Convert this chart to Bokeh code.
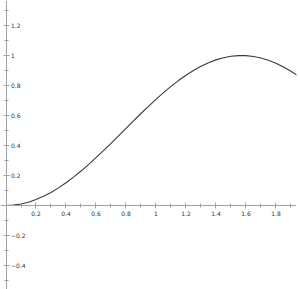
from bokeh.plotting import figure
from bokeh.models import LinearAxis, FixedTicker, Range1d
from bokeh.embed import file_html
from bokeh.resources import INLINE

x_vals = [0.0, 0.05, 0.1, 0.15, 0.2, 0.25, 0.3, 0.35, 0.4, 0.45, 0.5, 0.55, 0.6, 0.65, 0.7,
          0.75, 0.8, 0.85, 0.9, 0.95, 1.0, 1.05, 1.1, 1.15, 1.2, 1.25, 1.3, 1.35, 1.4, 1.45,
          1.5, 1.55, 1.6, 1.65, 1.7, 1.75, 1.8, 1.85, 1.9, 1.95, 2.0]
y_vals = [0.0, 0.0025, 0.01, 0.0223, 0.0395, 0.0612, 0.0873, 0.1176, 0.1516, 0.1892, 0.2298,
          0.2731, 0.3188, 0.3664, 0.415, 0.4646, 0.5146, 0.5644, 0.6136, 0.6616, 0.7081,
          0.7524, 0.7943, 0.8331, 0.8687, 0.9006, 0.9284, 0.952, 0.9711, 0.9855, 0.995,
          0.9996, 0.9992, 0.9937, 0.9834, 0.9682, 0.9484, 0.9241, 0.8955, 0.863, 0.8268]
x_ticks = [0.2, 0.4, 0.6, 0.8, 1.0, 1.2, 1.4, 1.6, 1.8]
x_minor = [0.1, 0.3, 0.5, 0.7, 0.9, 1.1, 1.3, 1.5, 1.7, 1.9]
y_ticks = [-0.4, -0.2, 0.2, 0.4, 0.6, 0.8, 1.0, 1.2]
y_minor = [-0.5, -0.3, -0.1, 0.1, 0.3, 0.5, 0.7, 0.9, 1.1, 1.3]

p = figure(width=300, height=289, output_backend="svg", toolbar_location=None,
           x_axis_type=None, y_axis_type=None,
           x_range=Range1d(-0.0367, 1.937), y_range=Range1d(-0.56, 1.367),
           min_border=0, min_border_right=4)
p.outline_line_color = None
p.xgrid.visible = False
p.ygrid.visible = False
p.background_fill_color = "white"
p.border_fill_color = "white"

def style(ax):
    ax.axis_line_color = "#a0a0a0"
    ax.axis_line_width = 1
    ax.major_tick_line_color = "#a0a0a0"
    ax.minor_tick_line_color = "#a0a0a0"
    ax.major_tick_in = 3
    ax.major_tick_out = 3
    ax.minor_tick_in = 2
    ax.minor_tick_out = 2
    ax.major_label_text_font = "DejaVu Sans"
    ax.major_label_text_font_size = "6px"
    ax.major_label_text_color = "#333333"
    ax.major_label_standoff = 2

xa = LinearAxis(fixed_location=0, ticker=FixedTicker(ticks=x_ticks, minor_ticks=x_minor))
style(xa)
p.add_layout(xa, "below")
ya = LinearAxis(fixed_location=0, ticker=FixedTicker(ticks=y_ticks, minor_ticks=y_minor))
style(ya)
ya.major_label_orientation = "horizontal"
p.add_layout(ya, "right")

p.line(x_vals, y_vals, line_color="#3a3a3a", line_width=1.1)

open("out.html", "w").write(file_html(p, INLINE))
